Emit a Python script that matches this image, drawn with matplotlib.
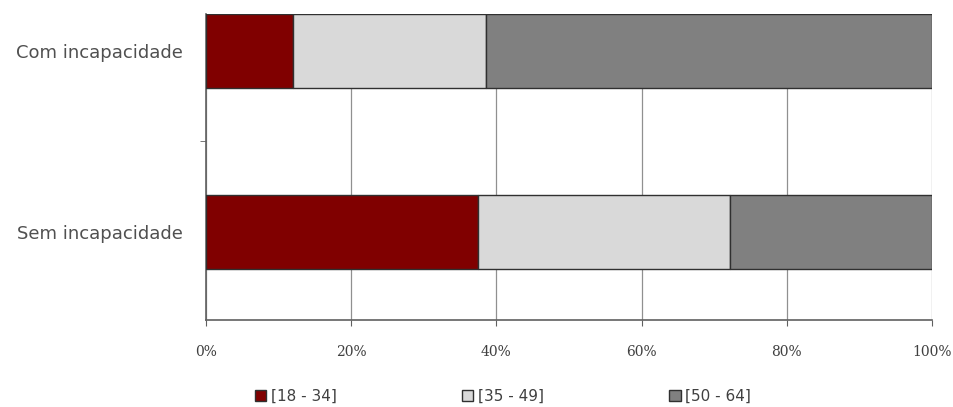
import matplotlib.pyplot as plt
import numpy as np

# data (percent of each group)
categories = ['Sem incapacidade', 'Com incapacidade']
age_groups = ['[18 - 34]', '[35 - 49]', '[50 - 64]']
share_18_34 = [37.4, 12.0]
share_35_49 = [34.8, 26.6]
share_50_64 = [27.8, 61.4]
xtick_vals = [0, 20, 40, 60, 80, 100]

colors = ['#800000', '#d9d9d9', '#808080']

fig = plt.figure(figsize=(9.54, 4.07), dpi=100)
ax = fig.add_axes([206/954, 87/407, 726/954, 306/407])

y = np.arange(len(categories))
left = np.zeros(len(categories))
for vals, lab, col in zip([share_18_34, share_35_49, share_50_64], age_groups, colors):
    ax.barh(y, vals, left=left, height=0.41, color=col, edgecolor='#303030',
            linewidth=1.0, label=lab, zorder=3)
    left += np.array(vals)

ax.set_xlim(0, 100)
ax.set_ylim(-0.49, 1.205)
ax.set_xticks(xtick_vals)
ax.set_xticklabels([f'{v}%' for v in xtick_vals], family='DejaVu Serif',
                   fontsize=10, color='#404040')
ax.set_yticks(y)
ax.set_yticklabels(categories, fontsize=13, color='#505050')
ax.set_yticks([0.5], minor=True)
ax.tick_params(axis='y', which='major', length=0, pad=17)
ax.tick_params(axis='y', which='minor', length=4, color='#606060')
ax.tick_params(axis='x', length=4, color='#606060', pad=14)

ax.grid(axis='x', color='#909090', linewidth=0.9, zorder=0)
for s in ['top', 'right']:
    ax.spines[s].set_visible(False)
ax.spines['left'].set_color('#606060')
ax.spines['bottom'].set_color('#606060')
ax.spines['left'].set_linewidth(1.2)
ax.spines['bottom'].set_linewidth(1.2)

fig.legend(loc='lower center', bbox_to_anchor=(0.527, -0.025), ncol=3, frameon=False,
           fontsize=11, handlelength=0.75, handleheight=0.75, handletextpad=0.3,
           columnspacing=8.2, labelcolor='#404040')

fig.savefig('out.png', dpi=100)
